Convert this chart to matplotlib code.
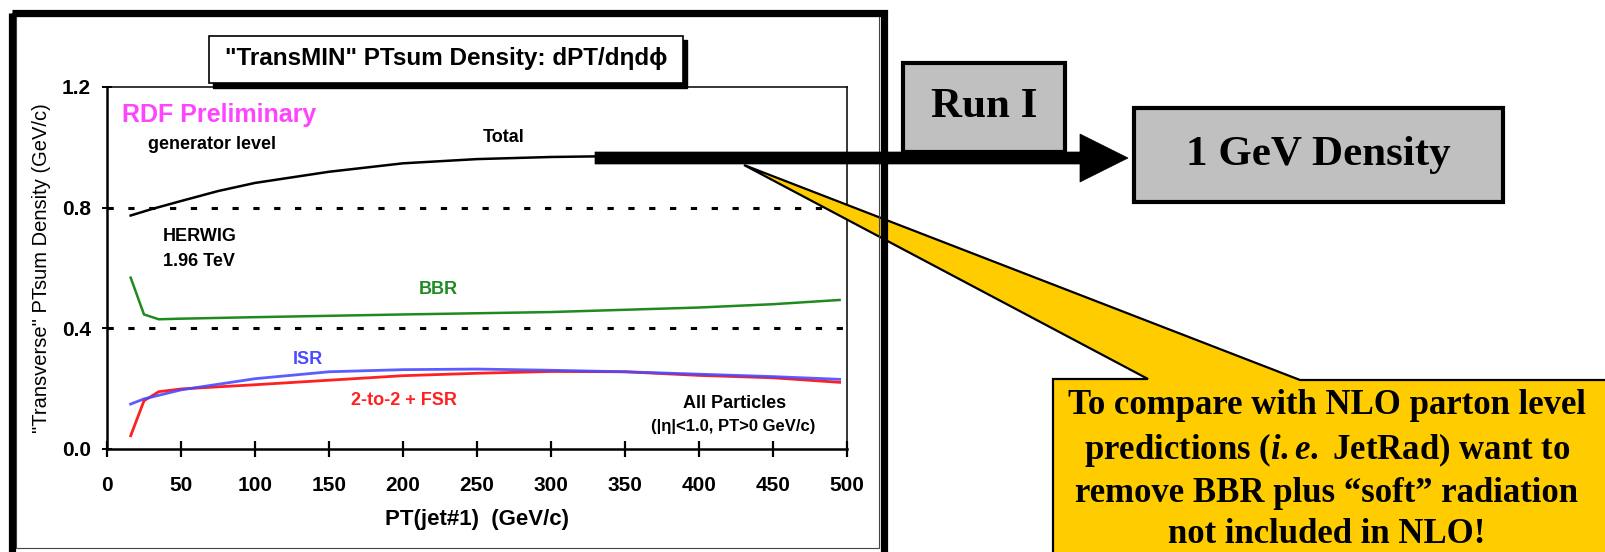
import matplotlib
matplotlib.use("Agg")
import matplotlib.pyplot as plt
from matplotlib.patches import Polygon, Rectangle

plt.rcParams["lines.scale_dashes"] = False
plt.rcParams["mathtext.fontset"] = "custom"
plt.rcParams["mathtext.it"] = "Liberation Serif:italic:bold"
plt.rcParams["mathtext.rm"] = "Liberation Serif:bold"

SANS = ["Liberation Sans Narrow", "Liberation Sans", "DejaVu Sans"]
SERIF = ["Liberation Serif", "DejaVu Serif"]

# curves: PT(jet#1) in GeV/c, density in GeV/c
total_pt = [16, 30, 50, 75, 100, 150, 200, 250, 300, 330, 400, 450, 495]
total_val = [0.774, 0.795, 0.822, 0.855, 0.882, 0.919, 0.947, 0.961, 0.968, 0.970, 0.970, 0.970, 0.970]

bbr_pt = [16, 25, 35, 50, 100, 200, 300, 400, 450, 495]
bbr_val = [0.568, 0.446, 0.430, 0.432, 0.437, 0.446, 0.454, 0.469, 0.480, 0.494]

isr_pt = [16, 25, 50, 100, 150, 200, 250, 300, 350, 400, 450, 495]
isr_val = [0.149, 0.166, 0.196, 0.233, 0.256, 0.263, 0.265, 0.261, 0.256, 0.248, 0.240, 0.231]

fsr_pt = [16, 25, 35, 50, 100, 150, 200, 250, 300, 350, 400, 450, 495]
fsr_val = [0.044, 0.160, 0.190, 0.199, 0.213, 0.228, 0.243, 0.251, 0.257, 0.256, 0.244, 0.236, 0.221]

x_ticks = [0, 50, 100, 150, 200, 250, 300, 350, 400, 450, 500]
y_ticks = [0.0, 0.4, 0.8, 1.2]
ref_lines = [0.4, 0.8]

title = "\"TransMIN\" PTsum Density: dPT/d\u03b7d\u03d5"
callout = ("To compare with NLO parton level\n"
           "predictions ($\\mathit{i.e.}$ JetRad) want to\n"
           "remove BBR plus \u201csoft\u201d radiation\n"
           "not included in NLO!")

W, H = 1606, 552
fig = plt.figure(figsize=(W / 100, H / 100), dpi=100)

# main plot
ax = fig.add_axes([107 / W, (H - 449) / H, (847 - 107) / W, (449 - 87) / H])
ax.set_xlim(0, 500)
ax.set_ylim(0, 1.2)
for y in ref_lines:
    ax.axhline(y, color="black", lw=2.2, dashes=(4.5, 10.5), zorder=1)
ax.plot(total_pt, total_val, color="black", lw=1.8, zorder=3)
ax.plot(bbr_pt, bbr_val, color="#1f8a1f", lw=1.8, zorder=3)
ax.plot(fsr_pt, fsr_val, color="#ff2020", lw=2.0, zorder=3)
ax.plot(isr_pt, isr_val, color="#4a4aff", lw=2.0, alpha=0.9, zorder=4)

ax.set_xticks(x_ticks)
ax.set_yticks(y_ticks)
ax.set_yticklabels([f"{v:.1f}" for v in y_ticks])
ax.tick_params(axis="x", direction="inout", length=11, width=1.6, pad=14)
ax.tick_params(axis="y", direction="inout", length=7, width=1.4, pad=8)
for lab in ax.get_xticklabels() + ax.get_yticklabels():
    lab.set_family(SANS)
    lab.set_fontsize(15)
    lab.set_fontweight("bold")
for side in ["left", "bottom"]:
    ax.spines[side].set_linewidth(1.8)
for side in ["top", "right"]:
    ax.spines[side].set_linewidth(1.1)

ax.set_xlabel("PT(jet#1)  (GeV/c)", family=SANS, fontsize=16, fontweight="bold", labelpad=10)
ax.set_ylabel("\"Transverse\" PTsum Density (GeV/c)", family=SANS, fontsize=14.5, labelpad=8)

txt = dict(family=SANS, va="center", fontweight="bold")
ax.text(10, 1.107, "RDF Preliminary", color="#ff44ff", fontsize=18, ha="left", **txt)
ax.text(28, 1.008, "generator level", fontsize=13, ha="left", **txt)
ax.text(268, 1.034, "Total", fontsize=13, ha="center", **txt)
ax.text(38, 0.703, "HERWIG", fontsize=13, ha="left", **txt)
ax.text(38, 0.62, "1.96 TeV", fontsize=13, ha="left", **txt)
ax.text(224, 0.53, "BBR", color="#1f8a1f", fontsize=13, ha="center", **txt)
ax.text(136, 0.298, "ISR", color="#4a4aff", fontsize=13, ha="center", **txt)
ax.text(201, 0.162, "2-to-2 + FSR", color="#ff2020", fontsize=13, ha="center", **txt)
ax.text(424, 0.152, "All Particles", fontsize=13, ha="center", **txt)
ax.text(423, 0.073, "(|\u03b7|<1.0, PT>0 GeV/c)", fontsize=12, ha="center", **txt)

# overlay in pixel coordinates for frame, boxes, arrow and callout
ov = fig.add_axes([0, 0, 1, 1], zorder=5)
ov.set_xlim(0, W)
ov.set_ylim(H, 0)
ov.axis("off")

ov.add_patch(Polygon([(1053, 379), (1148, 379), (744, 165), (1300, 380),
                      (1620, 380), (1620, 560), (1053, 560)],
                     closed=True, facecolor="#ffcc00", edgecolor="black", lw=1.6, zorder=1))
ov.text(1327, 470, callout, family=SERIF, fontsize=25, fontweight="bold",
        ha="center", va="center", linespacing=1.32, zorder=2)

ov.add_patch(Rectangle((16, 16), 863, 532, fill=False, edgecolor="#444444", lw=0.8, zorder=3))
ov.add_patch(Rectangle((12.5, 12.5), 871.5, 560, fill=False, edgecolor="black", lw=5.2, zorder=3))

# title box with shadow
ov.add_patch(Rectangle((213, 40), 474, 48, facecolor="black", edgecolor="black", lw=1, zorder=3))
ov.add_patch(Rectangle((209, 36), 474, 47, facecolor="white", edgecolor="black", lw=1.2, zorder=4))
ov.text(446, 59, title, family=SANS, fontsize=17.5, fontweight="bold", ha="center", va="center", zorder=5)

# arrow
ov.add_patch(Polygon([(595, 152), (1080, 152), (1080, 134), (1128, 158),
                      (1080, 182), (1080, 164), (595, 164)],
                     closed=True, facecolor="black", edgecolor="black", lw=0.5, zorder=6))

# grey boxes
ov.add_patch(Rectangle((903, 63), 162, 89, facecolor="#c0c0c0", edgecolor="black", lw=3, zorder=5))
ov.text(984, 107, "Run I", family=SERIF, fontsize=31, fontweight="bold", ha="center", va="center", zorder=6)
ov.add_patch(Rectangle((1134, 108), 369, 94, facecolor="#c0c0c0", edgecolor="black", lw=3, zorder=5))
ov.text(1318, 155, "1 GeV Density", family=SERIF, fontsize=31, fontweight="bold", ha="center", va="center", zorder=6)

fig.savefig("out.png", dpi=100)
